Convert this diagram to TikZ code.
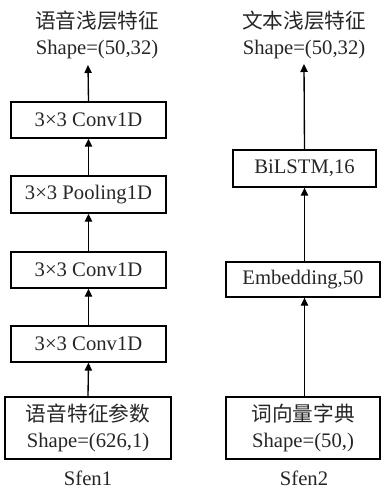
\documentclass[tikz,border=0pt]{standalone}
\usepackage{fontspec}
\setmainfont{Liberation Serif}
\newfontfamily\cjk{Noto Sans CJK SC}
\usetikzlibrary{arrows.meta}
\begin{document}
\begin{tikzpicture}[x=0.75pt,y=-0.75pt,
  every node/.style={font=\fontsize{15.5}{19.5}\selectfont, inner sep=0pt, text=black!85},
  blk/.style={draw, line width=1pt, rectangle, align=center},
  lbl/.style={align=center},
  arr/.style={line width=1pt, -{Triangle[length=6pt,width=5.5pt]}},
  zh/.style={font=\fontsize{14.8}{19.5}\selectfont\cjk}]
\useasboundingbox (0,0) rectangle (381,488);
% left column
\node[lbl] (t1) at (97,35) {{\cjk 语音浅层特征}\\Shape=(50,32)};
\coordinate (t1a) at (88,65);
\node[blk, minimum width=155*0.75pt, minimum height=36*0.75pt] (c3) at (88.5,120) {3×3 Conv1D};
\node[blk, minimum width=155*0.75pt, minimum height=37*0.75pt] (pool) at (88.5,194.5) {3×3 Pooling1D};
\node[blk, minimum width=155*0.75pt, minimum height=36*0.75pt] (c2) at (88.5,270) {3×3 Conv1D};
\node[blk, minimum width=155*0.75pt, minimum height=36*0.75pt] (c1) at (88.5,344) {3×3 Conv1D};
\node[blk, minimum width=166*0.75pt, minimum height=62*0.75pt] (in1) at (88,428) {{\cjk 语音特征参数}\\Shape=(626,1)};
\node (s1) at (88,478) {Sfen1};
\draw[arr] (in1.north) -- (c1.south);
\draw[arr] (c1.north) -- (c2.south);
\draw[arr] (c2.north) -- (pool.south);
\draw[arr] (pool.north) -- (c3.south);
\draw[arr] (c3.north) -- (t1a);
% right column
\node[lbl] (t2) at (304,35) {{\cjk 文本浅层特征}\\Shape=(50,32)};
\coordinate (t2a) at (304,64);
\node[blk, minimum width=143*0.75pt, minimum height=37*0.75pt] (bl) at (304.5,168.5) {BiLSTM,16};
\node[blk, minimum width=154*0.75pt, minimum height=35*0.75pt] (em) at (303,279.5) {Embedding,50};
\node[blk, minimum width=154*0.75pt, minimum height=62*0.75pt] (in2) at (303,428) {{\cjk 词向量字典}\\Shape=(50,)};
\node (s2) at (304,478) {Sfen2};
\draw[arr] (in2.north -| bl.north) -- (em.south -| bl.north);
\draw[arr] (em.north -| bl.north) -- (bl.south);
\draw[arr] (bl.north) -- (t2a);
\end{tikzpicture}
\end{document}
